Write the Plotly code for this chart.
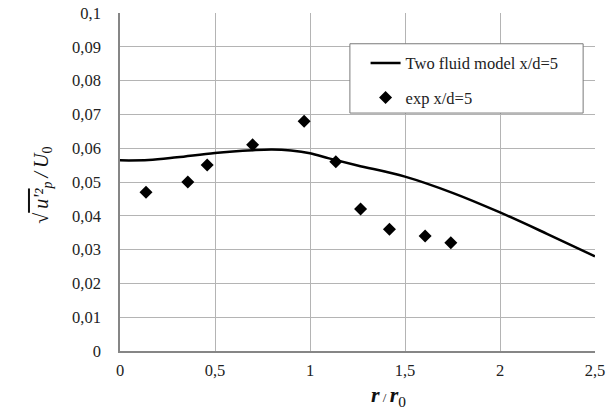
import plotly.graph_objects as go

# Two-fluid model profile at x/d = 5
r_model = [0, 0.15, 0.3, 0.5, 0.7, 0.8, 0.9, 1.0, 1.1, 1.25, 1.5, 1.75, 2.0, 2.25, 2.5]
u_model = [0.0564, 0.0565, 0.0573, 0.0586, 0.0594, 0.0596, 0.0593, 0.0585, 0.0570,
           0.0549, 0.0516, 0.0468, 0.0410, 0.0346, 0.0280]

# Experimental points at x/d = 5
r_exp = [0.137, 0.357, 0.459, 0.698, 0.969, 1.136, 1.266, 1.418, 1.606, 1.741]
u_exp = [0.047, 0.050, 0.055, 0.061, 0.068, 0.056, 0.042, 0.036, 0.034, 0.032]

x_ticks = [0, 0.5, 1, 1.5, 2, 2.5]
y_ticks = [0, 0.01, 0.02, 0.03, 0.04, 0.05, 0.06, 0.07, 0.08, 0.09, 0.1]

SERIF = "Liberation Serif"
GRID = "#b4b4b4"
AXIS = "#868686"

fig = go.Figure()
fig.add_trace(go.Scatter(
    x=r_model, y=u_model, mode="lines", name="Two fluid model x/d=5",
    line=dict(color="black", width=2.5, shape="spline", smoothing=1.0),
    legendgroup="a",
))
fig.add_trace(go.Scatter(
    x=r_exp, y=u_exp, mode="markers", name="exp x/d=5",
    marker=dict(symbol="diamond", size=10, color="black"),
    legendgroup="b",
))

fig.update_layout(
    width=607, height=412,
    margin=dict(l=120, r=12, t=13, b=61, autoexpand=False),
    paper_bgcolor="white", plot_bgcolor="white",
    separators=", ",
    font=dict(family=SERIF, size=16.5, color="#222222"),
    showlegend=True,
    legend=dict(
        x=0.517, y=0.903, xanchor="left", yanchor="top",
        bgcolor="rgba(0,0,0,0)", borderwidth=0,
        font=dict(family=SERIF, size=16.5, color="#222222"),
        tracegroupgap=10,
    ),
    shapes=[dict(
        type="rect", xref="paper", yref="paper",
        x0=0.484, x1=0.975, y0=0.704, y1=0.909,
        line=dict(color="#7a7a7a", width=1), fillcolor="white", layer="above",
    )],
    annotations=[
        dict(
            xref="paper", yref="paper", x=-0.194, y=0.49,
            text="√<span style='text-decoration:overline;font-style:italic'>\u2009u'\u00b2</span>"
                 "<sub><i>p</i></sub><i>\u2009/\u2009U</i><sub>0</sub>",
            textangle=-90, showarrow=False,
            font=dict(family=SERIF, size=20, color="#111111"),
        ),
        dict(
            xref="paper", yref="paper", x=0.565, y=-0.133, yanchor="middle",
            text="<b><i>r</i></b><span style='font-size:13px'> / </span><b><i>r</i></b><sub>0</sub>",
            showarrow=False,
            font=dict(family=SERIF, size=22, color="#111111"),
        ),
    ],
)

fig.update_xaxes(
    range=[0, 2.5], tickvals=x_ticks, showgrid=True, gridcolor=GRID, gridwidth=1,
    zeroline=False, showline=True, linecolor=AXIS, linewidth=1.5,
    ticks="", ticklabelstandoff=3,
)
fig.update_yaxes(
    range=[0, 0.1], tickvals=y_ticks, showgrid=True, gridcolor=GRID, gridwidth=1,
    zeroline=False, showline=True, linecolor=AXIS, linewidth=1.5,
    ticks="", ticklabelstandoff=14,
)

fig.write_html("out.html")
